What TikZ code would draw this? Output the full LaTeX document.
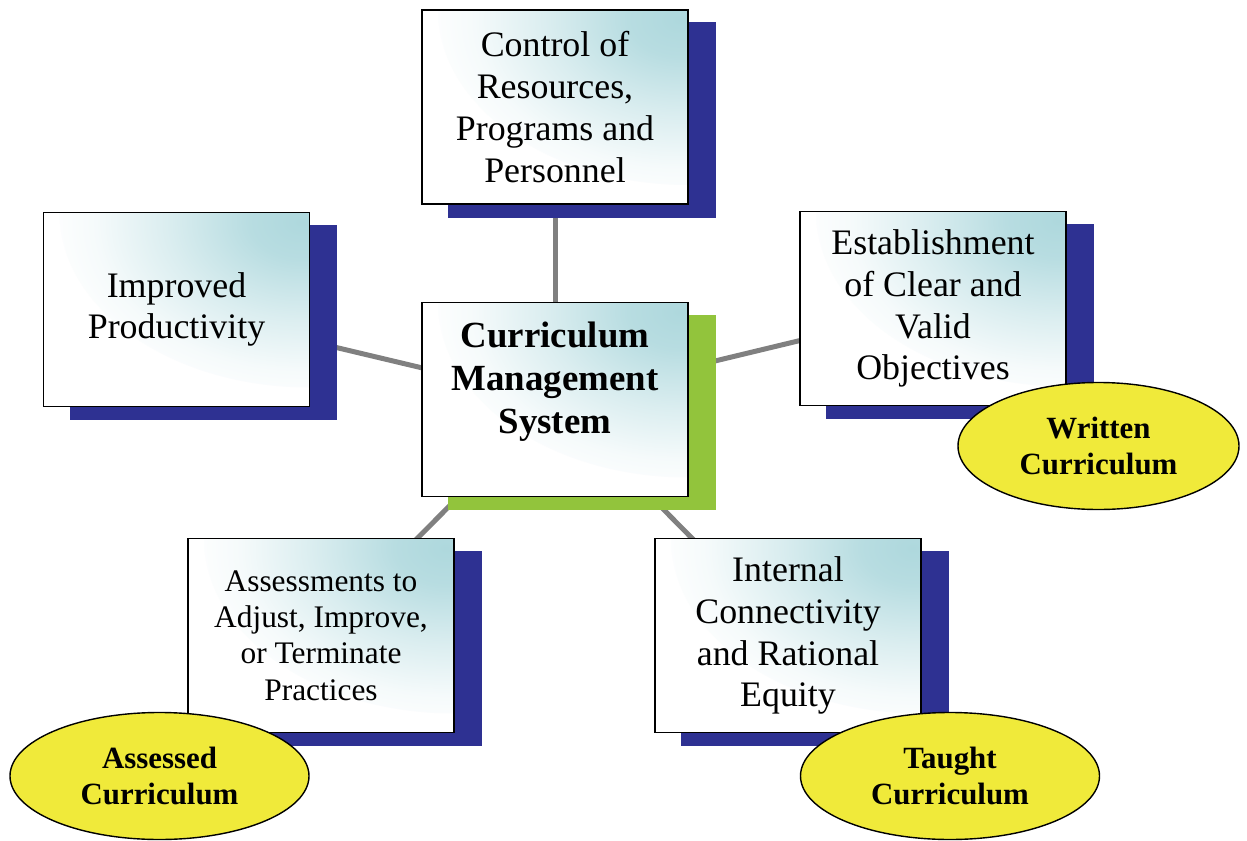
\documentclass[tikz,border=0pt]{standalone}
\usepackage{fontspec}
\setmainfont{Liberation Serif}
\usetikzlibrary{shapes.geometric}
\definecolor{navy}{RGB}{46,49,146}
\definecolor{leaf}{RGB}{146,196,60}
\definecolor{lemon}{RGB}{240,234,58}
\definecolor{tealc}{RGB}{174,216,221}
\colorlet{tealhi}{tealc!88!white}
\colorlet{tealmid}{tealc!45!white}
\colorlet{teallo}{tealc!12!white}
\definecolor{linkgray}{RGB}{128,128,128}
\pgfdeclareradialshading{cardglow}{\pgfpoint{0bp}{0bp}}{%
  color(0bp)=(tealc); color(5bp)=(tealhi); color(13bp)=(tealmid);
  color(20bp)=(teallo); color(25bp)=(white); color(50bp)=(white)}
\pgfdeclarelayer{links}
\pgfdeclarelayer{shadows}
\pgfsetlayers{links,shadows,main}
\tikzset{
  card/.style={draw=black, line width=1.6bp, fill=white, minimum width=266bp,
    minimum height=194bp, inner sep=0pt, align=center,
    font=\fontsize{36}{42}\selectfont,
    path picture={\shade[shading=cardglow]
      (path picture bounding box.north east) ellipse [x radius=250bp, y radius=175bp];}},
  tag/.style={ellipse, draw=black, line width=1.4bp, fill=lemon,
    minimum height=127bp, inner sep=0pt, align=center,
    font=\bfseries\fontsize{31}{37}\selectfont},
  link/.style={draw=linkgray, line width=5bp},
  navyshadow/.style={fill=navy},
  leafshadow/.style={fill=leaf},
}
\newcommand{\dropshadow}[2]{%
  \begin{pgfonlayer}{shadows}
    \fill[#1] ([shift={(27bp,-13bp)}]#2.south west) rectangle ([shift={(27bp,-13bp)}]#2.north east);
  \end{pgfonlayer}}
\begin{document}
\begin{tikzpicture}[x=1bp, y=-1bp]
\useasboundingbox (0,0) rectangle (1247,841);

\node[card] (ctrl) at (555,107) {Control of\\Resources,\\Programs and\\Personnel};
\node[card] (prod) at (176.5,309.5) {Improved\\Productivity};
\node[card] (cms) at (555,399.5) {};
\node[font=\bfseries\fontsize{37}{43}\selectfont, align=center] (cmstext) at (555,382) {Curriculum\\Management\\System};
\node[card] (obj) at (933,308.5) {Establishment\\of Clear and\\Valid\\Objectives};
\node[card, font=\fontsize{31.5}{36.5}\selectfont] (assess) at (321,635.5) {Assessments to\\Adjust, Improve,\\or Terminate\\Practices};
\node[card] (conn) at (788,635.5) {Internal\\Connectivity\\and Rational\\Equity};

\dropshadow{navyshadow}{ctrl}
\dropshadow{navyshadow}{prod}
\dropshadow{leafshadow}{cms}
\dropshadow{navyshadow}{obj}
\dropshadow{navyshadow}{assess}
\dropshadow{navyshadow}{conn}

\begin{pgfonlayer}{links}
  \draw[link] (cms.center) -- (ctrl.center);
  \draw[link] (cms.center) -- (prod.center);
  \draw[link] (cms.center) -- (obj.center);
  \draw[link] (cms.center) -- (assess.center);
  \draw[link] (cms.center) -- (conn.center);
\end{pgfonlayer}

\node[tag, minimum width=281bp] (written) at (1098.5,446) {Written\\Curriculum};
\node[tag, minimum width=299bp] (assessed) at (159.5,776) {Assessed\\Curriculum};
\node[tag, minimum width=299bp] (taught) at (950,776) {Taught\\Curriculum};
\end{tikzpicture}
\end{document}
